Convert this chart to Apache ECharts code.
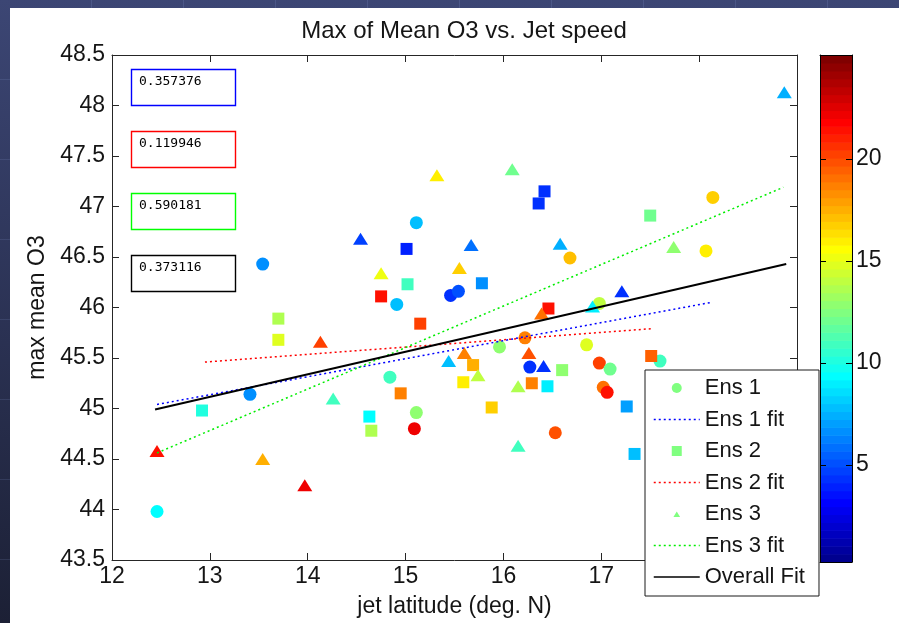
<!DOCTYPE html>
<html>
<head>
<meta charset="utf-8">
<script src="https://cdn.jsdelivr.net/npm/echarts@6/dist/echarts.min.js"></script>
<style>
  html, body { margin: 0; padding: 0; width: 899px; height: 623px; overflow: hidden; }
  body {
    position: relative;
    background:
      repeating-linear-gradient(90deg, rgba(0,0,0,0) 0 91px, rgba(150,170,230,0.16) 91px 92px),
      repeating-linear-gradient(180deg, rgba(0,0,0,0) 0 79px, rgba(150,170,230,0.14) 79px 80px),
      linear-gradient(180deg, #3c4674 0%, #2a3152 55%, #1c2035 100%);
  }
  #figure { position: absolute; left: 10px; top: 8px; right: 0; bottom: 0; background: #ffffff; }
  #chart { position: absolute; left: 0; top: 0; width: 899px; height: 623px; }
</style>
</head>
<body>
<div id="figure"></div>
<div id="chart"></div>
<script>
// ---- data -------------------------------------------------------------
// each point: [jet latitude (deg N), max mean O3, colour value]
const ens1 = [
  [13.54, 46.43, 6.5], [15.11, 46.84, 8.0], [16.68, 46.49, 17.3], [15.46, 46.12, 4.2],
  [15.54, 46.16, 5.0], [14.91, 46.03, 8.0], [18.14, 47.09, 16.8], [18.07, 46.56, 15.8],
  [16.98, 46.04, 14.2], [16.85, 45.63, 15.0], [16.98, 45.45, 20.4], [17.09, 45.39, 12.0],
  [17.60, 45.47, 11.1], [16.22, 45.70, 18.5], [15.96, 45.61, 13.0], [16.27, 45.41, 4.5],
  [14.84, 45.31, 10.9], [17.02, 45.21, 18.9], [17.06, 45.16, 21.5], [15.11, 44.96, 12.7],
  [15.09, 44.80, 22.0], [16.53, 44.76, 20.0], [13.41, 45.14, 6.5], [12.46, 43.98, 9.4]
];
const ens2 = [
  [16.42, 47.15, 4.5], [16.36, 47.03, 4.5], [15.01, 46.58, 3.8], [15.02, 46.23, 11.1],
  [15.78, 46.24, 6.5], [14.75, 46.11, 21.5], [17.50, 46.91, 11.9], [17.51, 45.52, 19.6],
  [16.60, 45.38, 12.7], [15.15, 45.84, 20.4], [16.46, 45.99, 21.5], [15.69, 45.43, 17.4],
  [15.59, 45.26, 15.8], [16.29, 45.25, 18.5], [16.45, 45.22, 9.0], [14.95, 45.15, 18.5],
  [17.26, 45.02, 7.0], [15.88, 45.01, 16.8], [14.63, 44.92, 9.3], [14.65, 44.78, 13.5],
  [17.34, 44.55, 8.0], [13.70, 45.89, 13.8], [13.70, 45.68, 15.0], [12.92, 44.98, 10.3]
];
const ens3 = [
  [14.54, 46.68, 4.9], [15.32, 47.31, 15.8], [16.09, 47.37, 11.9], [15.67, 46.62, 6.0],
  [16.58, 46.63, 7.6], [15.55, 46.39, 16.8], [14.75, 46.34, 15.2], [18.87, 48.13, 7.3],
  [17.74, 46.60, 12.7], [17.21, 46.16, 4.5], [16.91, 46.01, 9.0], [16.39, 45.94, 18.9],
  [15.60, 45.55, 18.5], [16.26, 45.55, 20.0], [15.44, 45.47, 8.0], [16.41, 45.42, 4.2],
  [15.74, 45.33, 14.2], [16.15, 45.22, 13.5], [16.15, 44.63, 11.0], [14.13, 45.66, 20.4],
  [14.26, 45.10, 11.1], [12.46, 44.58, 21.5], [13.54, 44.50, 17.4], [13.97, 44.24, 22.0]
];

// linear fits: end points [x, y]
const fitEns1 = [[12.46, 45.04], [18.12, 46.05]];
const fitEns2 = [[12.95, 45.46], [17.51, 45.79]];
const fitEns3 = [[12.46, 44.56], [18.86, 47.19]];
const fitAll  = [[12.44, 44.99], [18.89, 46.43]];

// correlation coefficients shown in the boxes
const rLabels = ['0.357376', '0.119946', '0.590181', '0.373116'];
const rColors = ['#0000ff', '#ff0000', '#00ff00', '#000000'];

// colour scale
const cMin = 0.25, cMax = 25.1;
const colorTicks = [5, 10, 15, 20];

// ---- jet colour map (64 levels) ---------------------------------------
function jetColormap(n) {
  const m = Math.ceil(n / 4);
  const u = [];
  for (let i = 1; i <= m; i++) u.push(i / m);
  for (let i = 0; i < m - 1; i++) u.push(1);
  for (let i = m; i >= 1; i--) u.push(i / m);
  const L = u.length;
  const off = Math.ceil(m / 2) - (n % 4 === 1 ? 1 : 0);
  const R = new Array(n).fill(0), G = new Array(n).fill(0), B = new Array(n).fill(0);
  const gi = [], ri = [], bi = [];
  for (let k = 1; k <= L; k++) {
    const g = off + k;
    if (g <= n) gi.push(g);
    if (g + m <= n) ri.push(g + m);
    if (g - m >= 1) bi.push(g - m);
  }
  ri.forEach((idx, j) => { R[idx - 1] = u[j]; });
  gi.forEach((idx, j) => { G[idx - 1] = u[j]; });
  bi.forEach((idx, j) => { B[idx - 1] = u[L - bi.length + j]; });
  return R.map((r, i) => 'rgb(' + Math.round(r * 255) + ',' + Math.round(G[i] * 255) + ',' + Math.round(B[i] * 255) + ')');
}
const NLEV = 64;
const jet = jetColormap(NLEV);
function jetColor(v) {
  let k = Math.floor((v - cMin) / (cMax - cMin) * NLEV);
  k = Math.max(0, Math.min(NLEV - 1, k));
  return jet[k];
}
const bands = jet.map((c, i) => [cMin + i * (cMax - cMin) / NLEV, cMin + (i + 1) * (cMax - cMin) / NLEV, i]);

// ---- chart ------------------------------------------------------------
const FONT = '"Liberation Sans", Arial, Helvetica, sans-serif';
const MONO = '"DejaVu Sans Mono", "Liberation Mono", monospace';
const AX = '#262626';
const TXT = '#151515';

const chart = echarts.init(document.getElementById('chart'), null, { renderer: 'canvas' });

const frameAxis = (extra) => Object.assign({
  type: 'value', z: 10,
  axisLine: { show: true, onZero: false, lineStyle: { color: AX, width: 1 } },
  axisTick: { show: true, inside: true, length: 7, lineStyle: { color: AX, width: 1 } },
  axisLabel: { show: false },
  splitLine: { show: false }
}, extra);

// r-value boxes in the upper-left corner
const boxGraphics = [];
rLabels.forEach((t, i) => {
  const top = 69 + i * 62;
  boxGraphics.push({
    type: 'rect', z: 20,
    shape: { x: 131.5, y: top + 0.5, width: 104, height: 36 },
    style: { fill: '#ffffff', stroke: rColors[i], lineWidth: 1.4 }
  });
  boxGraphics.push({
    type: 'text', left: 139, top: top + 6, z: 21,
    style: { text: t, fill: '#000', font: '13px ' + MONO }
  });
});

const hiddenMark = { opacity: 0 };

const option = {
  backgroundColor: 'transparent',
  animation: false,
  title: {
    text: 'Max of Mean O3 vs. Jet speed',
    left: 459, top: 14, textAlign: 'center',
    textStyle: { fontFamily: FONT, fontSize: 24, fontWeight: 'normal', color: TXT }
  },
  grid: [
    { left: 112, top: 55, width: 685, height: 505, outerBoundsMode: 'none' },
    { left: 820, top: 55, width: 32, height: 507, outerBoundsMode: 'none' }
  ],
  xAxis: [
    frameAxis({
      gridIndex: 0, position: 'bottom', min: 12, max: 19, interval: 1,
      axisLabel: { show: true, fontFamily: FONT, fontSize: 23, color: TXT, margin: 5 },
      name: 'jet latitude (deg. N)', nameLocation: 'middle', nameGap: 35,
      nameTextStyle: { fontFamily: FONT, fontSize: 23, color: TXT }
    }),
    frameAxis({ gridIndex: 0, position: 'top', min: 12, max: 19, interval: 1 }),
    frameAxis({ gridIndex: 1, position: 'bottom', min: 0, max: 1, axisTick: { show: false },
      axisLine: { show: true, onZero: false, lineStyle: { color: '#000', width: 1 } } }),
    frameAxis({ gridIndex: 1, position: 'top', min: 0, max: 1, axisTick: { show: false },
      axisLine: { show: true, onZero: false, lineStyle: { color: '#000', width: 1 } } })
  ],
  yAxis: [
    frameAxis({
      gridIndex: 0, position: 'left', min: 43.5, max: 48.5, interval: 0.5,
      axisLabel: { show: true, fontFamily: FONT, fontSize: 23, color: TXT, margin: 7 },
      name: 'max mean O3', nameLocation: 'middle', nameGap: 56,
      nameTextStyle: { fontFamily: FONT, fontSize: 23, color: TXT }
    }),
    frameAxis({ gridIndex: 0, position: 'right', min: 43.5, max: 48.5, interval: 0.5 }),
    frameAxis({
      gridIndex: 1, position: 'left', min: cMin, max: cMax,
      axisLine: { show: true, onZero: false, lineStyle: { color: '#000', width: 1 } },
      axisTick: { show: true, inside: true, length: 6, customValues: colorTicks, lineStyle: { color: '#000' } }
    }),
    frameAxis({
      gridIndex: 1, position: 'right', min: cMin, max: cMax,
      axisLine: { show: true, onZero: false, lineStyle: { color: '#000', width: 1 } },
      axisTick: { show: true, inside: true, length: 6, customValues: colorTicks, lineStyle: { color: '#000' } },
      axisLabel: { show: true, customValues: colorTicks, fontFamily: FONT, fontSize: 23, color: TXT, margin: 4 }
    })
  ],
  legend: {
    orient: 'vertical', left: 645, top: 370,
    padding: [7, 14, 8, 8], itemGap: 9.5, itemWidth: 46, itemHeight: 10,
    backgroundColor: '#ffffff', borderColor: '#1a1a1a', borderWidth: 1, borderRadius: 0,
    selectedMode: false, z: 30,
    textStyle: { fontFamily: FONT, fontSize: 22, color: TXT, lineHeight: 22 },
    data: [
      { name: 'Ens 1', icon: 'circle', itemStyle: { color: '#80ff80' } },
      { name: 'Ens 1 fit', itemStyle: hiddenMark, lineStyle: { width: 1.3 } },
      { name: 'Ens 2', icon: 'path://M0,0L10,0L10,10L0,10Z', itemStyle: { color: '#80ff80' } },
      { name: 'Ens 2 fit', itemStyle: hiddenMark, lineStyle: { width: 1.3 } },
      { name: 'Ens 3', icon: 'path://M0,0M12,12M2,9.5L10,9.5L6,3Z', itemStyle: { color: '#80ff80' } },
      { name: 'Ens 3 fit', itemStyle: hiddenMark, lineStyle: { width: 1.3 } },
      { name: 'Overall Fit', itemStyle: hiddenMark, lineStyle: { width: 1.5 } }
    ]
  },
  graphic: boxGraphics,
  series: [
    {
      type: 'custom', xAxisIndex: 2, yAxisIndex: 2, silent: true, data: bands,
      renderItem: function (params, api) {
        const p0 = api.coord([0, api.value(0)]);
        const p1 = api.coord([1, api.value(1)]);
        return {
          type: 'rect',
          shape: { x: p0[0], y: p1[1], width: p1[0] - p0[0], height: p0[1] - p1[1] + 0.6 },
          style: { fill: jet[api.value(2)] }
        };
      }
    },
    {
      name: 'Ens 1', type: 'scatter', data: ens1, symbol: 'circle', symbolSize: 13, z: 3,
      itemStyle: { color: (p) => jetColor(p.value[2]), opacity: 1 }
    },
    {
      name: 'Ens 2', type: 'scatter', data: ens2, symbol: 'rect', symbolSize: 12, z: 3,
      itemStyle: { color: (p) => jetColor(p.value[2]), opacity: 1 }
    },
    {
      name: 'Ens 3', type: 'scatter', data: ens3, symbol: 'triangle', symbolSize: [15, 12], z: 3,
      itemStyle: { color: (p) => jetColor(p.value[2]), opacity: 1 }
    },
    {
      name: 'Ens 1 fit', type: 'line', data: fitEns1, symbol: 'none', z: 4,
      lineStyle: { color: '#0000ff', width: 1.5, type: [2, 3] }, itemStyle: { color: '#0000ff' }
    },
    {
      name: 'Ens 2 fit', type: 'line', data: fitEns2, symbol: 'none', z: 4,
      lineStyle: { color: '#ff0000', width: 1.5, type: [2, 3] }, itemStyle: { color: '#ff0000' }
    },
    {
      name: 'Ens 3 fit', type: 'line', data: fitEns3, symbol: 'none', z: 4,
      lineStyle: { color: '#00ee00', width: 1.5, type: [2, 3] }, itemStyle: { color: '#00ee00' }
    },
    {
      name: 'Overall Fit', type: 'line', data: fitAll, symbol: 'none', z: 5,
      lineStyle: { color: '#000000', width: 2, type: 'solid' }, itemStyle: { color: '#000000' }
    }
  ]
};
chart.setOption(option);
</script>
</body>
</html>
